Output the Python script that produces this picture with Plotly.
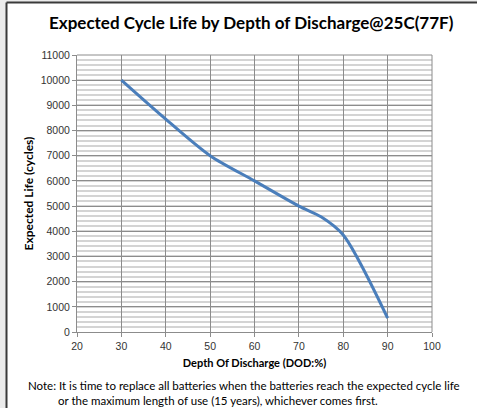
import plotly.graph_objects as go

dod = [30, 40, 50, 60, 70, 75, 80, 90]
cycles = [10000, 8450, 7000, 6000, 5000, 4575, 3850, 550]
x_ticks = [20, 30, 40, 50, 60, 70, 80, 90, 100]
y_ticks = list(range(0, 11001, 1000))

W, H = 477, 408
L, R, T, B = 77, 45, 55, 76
pw, ph = W - L - R, H - T - B

def px(x):
    return (x - L) / pw

def py(y):
    return (H - B - y) / ph

fig = go.Figure()
fig.add_trace(go.Scatter(x=dod, y=cycles, mode="lines",
                         line=dict(color="#4a7ebb", width=3, shape="spline", smoothing=0.8),
                         showlegend=False, hoverinfo="skip"))

title_font = "Lato, 'Open Sans', sans-serif"
tick_font = dict(family="Liberation Sans, Arial, sans-serif", size=10.5, color="#333333")

fig.update_layout(
    width=W, height=H,
    margin=dict(l=L, r=R, t=T, b=B, autoexpand=False),
    paper_bgcolor="white", plot_bgcolor="white",
    xaxis=dict(range=[20, 100], tickvals=x_ticks, showgrid=True, gridcolor="#8c8c8c", gridwidth=1,
               showline=True, linecolor="#8c8c8c", linewidth=1, mirror=False,
               ticks="outside", ticklen=4, tickcolor="#8c8c8c", tickfont=tick_font, zeroline=False,
               title=dict(text="<b>Depth Of Discharge (DOD:%)</b>", font=dict(family=title_font, size=11, color="black"), standoff=8)),
    yaxis=dict(range=[0, 11000], tickvals=y_ticks, tickformat="d", showgrid=True, gridcolor="#8c8c8c", gridwidth=1,
               showline=True, linecolor="#8c8c8c", linewidth=1,
               ticks="outside", ticklen=4, tickcolor="#8c8c8c", tickfont=tick_font, zeroline=False,
               minor=dict(dtick=200, showgrid=True, gridcolor="#d4d4d4", gridwidth=1.5),
               title=dict(text="<b>Expected Life (cycles)</b>", font=dict(family=title_font, size=12, color="black"), standoff=4)),
    shapes=[
        dict(type="rect", xref="paper", yref="paper", x0=px(0), x1=px(6), y0=py(H), y1=py(0),
             fillcolor="#ebebeb", line=dict(width=0), layer="below"),
        dict(type="rect", xref="paper", yref="paper", x0=px(0), x1=px(W), y0=py(2), y1=py(0),
             fillcolor="#ebebeb", line=dict(width=0), layer="below"),
        dict(type="line", xref="paper", yref="paper", x0=px(6.5), x1=px(6.5), y0=py(H), y1=py(2.5),
             line=dict(color="#3a3a3a", width=2)),
        dict(type="line", xref="paper", yref="paper", x0=px(6.5), x1=px(W), y0=py(2.5), y1=py(2.5),
             line=dict(color="#3a3a3a", width=2)),
        dict(type="line", xref="paper", yref="paper", x0=1, x1=1, y0=0, y1=1,
             line=dict(color="#8c8c8c", width=1)),
        dict(type="line", xref="paper", yref="paper", x0=0, x1=1, y0=1, y1=1,
             line=dict(color="#8c8c8c", width=1)),
    ],
    annotations=[
        dict(text="<b>Expected Cycle Life by Depth of Discharge@25C(77F)</b>", xref="paper", yref="paper",
             x=px(251), y=py(22), xanchor="center", yanchor="middle", showarrow=False,
             font=dict(family=title_font, size=17, color="black")),
        dict(text="Note: It is time to replace all batteries when the batteries reach the expected cycle life",
             xref="paper", yref="paper", x=px(26), y=py(385), xanchor="left", yanchor="middle", showarrow=False,
             font=dict(family=title_font, size=11.5, color="black")),
        dict(text="or the maximum length of use (15 years), whichever comes first.",
             xref="paper", yref="paper", x=px(56), y=py(400), xanchor="left", yanchor="middle", showarrow=False,
             font=dict(family=title_font, size=11.5, color="black")),
    ],
)

fig.write_html("out.html", config={"displayModeBar": False},
               post_script="document.body.style.margin='0';document.body.style.padding='0';")
